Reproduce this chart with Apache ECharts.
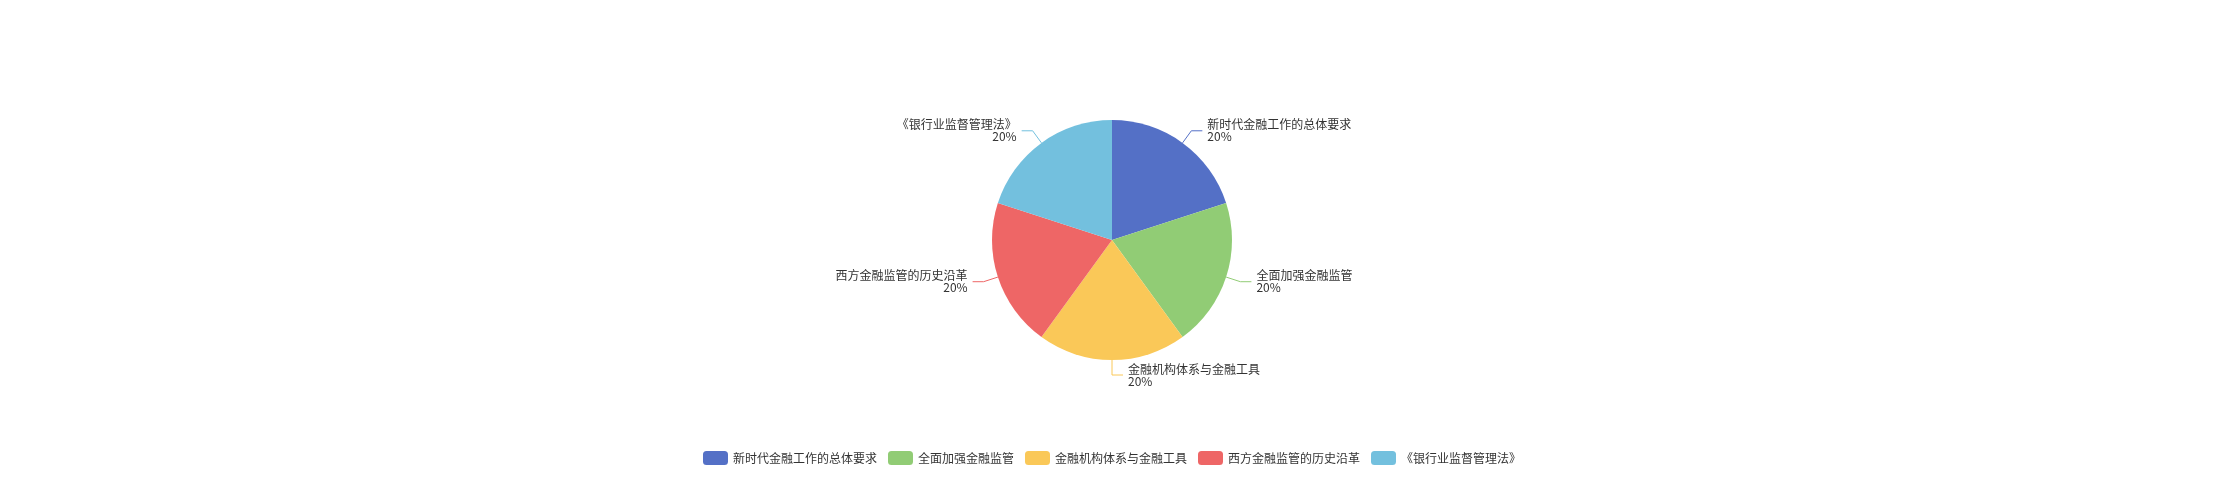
<!DOCTYPE html>
<html>
<head>
<meta charset="utf-8">
<style>
html,body{margin:0;padding:0;background:#fff;}
#chart{width:2224px;height:480px;}
</style>
<script src="https://cdn.jsdelivr.net/npm/echarts@6/dist/echarts.min.js"></script>
</head>
<body>
<div id="chart"></div>
<script>
const categories = ['新时代金融工作的总体要求', '全面加强金融监管', '金融机构体系与金融工具', '西方金融监管的历史沿革', '《银行业监督管理法》'];
const values = [1, 1, 1, 1, 1];
const colors = ['#5470c6', '#91cc75', '#fac858', '#ee6666', '#73c0de'];

const chart = echarts.init(document.getElementById('chart'));
chart.setOption({
  color: colors,
  textStyle: { fontFamily: '"Noto Sans CJK SC", "Noto Sans", sans-serif' },
  legend: {
    bottom: 10,
    left: 'center',
    itemWidth: 25,
    itemHeight: 14,
    itemGap: 11,
    textStyle: { color: '#333', fontSize: 12 },
    data: categories
  },
  series: [{
    type: 'pie',
    radius: '50%',
    center: ['50%', '50%'],
    data: categories.map((c, i) => ({ name: c, value: values[i] })),
    label: {
      formatter: '{b}\n{d}%',
      color: '#333',
      fontSize: 12,
      lineHeight: 12
    },
    labelLine: { length: 15, length2: 11 }
  }]
});
</script>
</body>
</html>
